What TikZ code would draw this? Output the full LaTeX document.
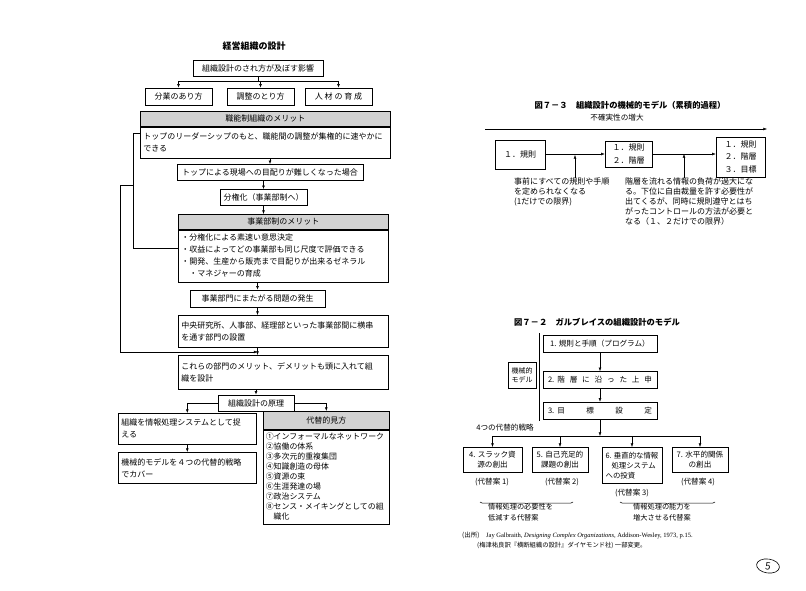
\documentclass[tikz,border=0pt]{standalone}
\usepackage{fontspec}
\setmainfont{Liberation Serif}
\newfontfamily\jp{Noto Sans CJK JP}
\usetikzlibrary{arrows.meta,positioning,decorations.pathreplacing,shapes.geometric}
\newcommand{\jpn}{\jp\fontsize{8}{12}\selectfont}
\newcommand{\jps}{\jp\fontsize{7.6}{10}\selectfont}

\begin{document}
\begin{tikzpicture}[x=1pt, y=-1pt,
    box/.style={draw, line width=0.6pt, fill=white, minimum height=16pt, inner xsep=3pt, inner ysep=1pt, align=center, font=\jpn},
    head/.style={box, fill=gray!35, anchor=north west, minimum height=15pt},
    body/.style={box, anchor=north west, align=left},
    rbox/.style={draw, line width=0.5pt, fill=white, inner sep=1.5pt, align=center, font=\jp\fontsize{7.6}{10}\selectfont},
    note/.style={align=left, inner sep=0pt, anchor=north west, font=\jp\fontsize{8}{10}\selectfont},
    arrow/.style={-{Latex[length=1.3mm,width=1mm]}, line width=0.5pt},
    link/.style={line width=0.5pt}
  ]
    \fill[white] (0,0) rectangle (806,591);
    \useasboundingbox (0,0) rectangle (806,591);

    \node[font=\jp\bfseries\fontsize{9}{10}\selectfont] (title) at (254,46) {経営組織の設計};
    \node[box, minimum width=130pt] (eikyo) at (258,68.5) {組織設計のされ方が及ぼす影響};
    \node[box, minimum width=67pt, minimum height=17pt] (bungyo) at (178.5,96.5) {分業のあり方};
    \node[box, minimum width=67pt, minimum height=17pt] (chosei) at (260.5,96.5) {調整のとり方};
    \node[box, minimum width=67pt, minimum height=17pt] (jinzai) at (338.5,96.5) {人 材 の 育 成};
    \coordinate (br) at (258,81);
    \draw[link] (eikyo) -- (br);
    \draw[link] (br -| bungyo) -- (br -| jinzai);
    \draw[arrow] (br -| bungyo) -- (bungyo);
    \draw[arrow] (br -| chosei) -- (chosei);
    \draw[arrow] (br -| jinzai) -- (jinzai);

    \node[head, minimum width=250pt] (kinouH) at (140,111) {職能制組織のメリット};
    \node[body, minimum width=250pt, text width=244pt, minimum height=31pt] (kinou) at (kinouH.south west) {トップのリーダーシップのもと、職能間の調整が集権的に速やかに\\できる};
    \node[box, minimum width=186pt] (top) at (270,172.5) {トップによる現場への目配りが難しくなった場合};
    \node[box, minimum width=87pt] (bunken) at (263.5,197.5) {分権化（事業部制へ）};
    \draw[arrow] (kinou.south -| top) -- (top);
    \draw[arrow] (top.south -| bunken) -- (bunken);

    \node[head, minimum width=210pt] (jigyoH) at (178,214) {事業部制のメリット};
    \node[body, minimum width=210pt, text width=204pt, minimum height=52pt] (jigyo) at (jigyoH.south west) {・分権化による素速い意思決定\\・収益によってどの事業部も同じ尺度で評価できる\\・開発、生産から販売まで目配りが出来るゼネラル\\\hspace*{1em}・マネジャーの育成};
    \draw[arrow] (bunken.south) -- (bunken.south |- jigyoH.north);
    \node[box, minimum width=135pt, minimum height=17pt] (mondai) at (257.5,298.5) {事業部門にまたがる問題の発生};
    \draw[arrow] (jigyo.south -| mondai) -- (mondai);
    \node[body, minimum width=210pt, text width=204pt, minimum height=32pt] (chuo) at (178,315) {中央研究所、人事部、経理部といった事業部間に横串\\を通す部門の設置};
    \draw[arrow] (mondai) -- (mondai |- chuo.north);
    \node[body, minimum width=210pt, text width=204pt, minimum height=34pt] (korera) at (178,355) {これらの部門のメリット、デメリットも頭に入れて組\\織を設計};
    \draw[arrow] (chuo.south -| mondai) -- (korera.north -| mondai);
    \node[box, minimum width=76pt] (genri) at (256,403) {組織設計の原理};
    \draw[arrow] (korera.south -| genri) -- (genri);

    \node[body, minimum width=138pt, text width=132pt, minimum height=31pt] (joho) at (118,413) {組織を情報処理システムとして捉\\える};
    \node[body, minimum width=138pt, text width=132pt, minimum height=31pt] (kikai) at (118,452) {機械的モデルを４つの代替的戦略\\でカバー};
    \draw[arrow] (genri.west) -| (joho);
    \draw[arrow] (joho) -- (kikai);
    \node[head, minimum width=126pt, minimum height=18pt] (daitaiH) at (263,411) {代替的見方};
    \node[body, minimum width=126pt, text width=121pt, inner xsep=2.5pt, minimum height=94pt, font=\jp\fontsize{7.9}{10}\selectfont] (daitai) at (daitaiH.south west) {①インフォーマルなネットワーク\\②協働の体系\\③多次元的重複集団\\④知識創造の母体\\⑤資源の束\\⑥生涯発達の場\\⑦政治システム\\⑧センス・メイキングとしての組\\\hspace*{1em}織化};
    \draw[arrow] (genri.east) -| (daitaiH);

    \coordinate (fbA) at (133,133);
    \coordinate (fbB) at (133,248);
    \coordinate (fbC) at (120,185);
    \coordinate (fbD) at (120,352);
    \draw[link] (kinou.west |- fbA) -- (fbA) -- (fbB) -- (fbB -| jigyo.west);
    \draw[link] (fbC -| fbA) -- (fbC) -- (fbD);
    \draw[arrow] (fbD) -- (fbD -| mondai);

    \node[font=\jp\bfseries\fontsize{8.3}{10}\selectfont] (t73) at (630,105) {図７－３\quad 組織設計の機械的モデル（累積的過程）};
    \node[font=\jps] (uncert) at (617,118) {不確実性の増大};
    \coordinate (u0) at (485,129);
    \coordinate (u1) at (767,129);
    \draw[arrow] (u0) -- (u1);
    \node[rbox, minimum width=50pt, minimum height=29pt, font=\jp\fontsize{8}{12.5}\selectfont] (m1) at (520,155) {１．規則};
    \node[rbox, minimum width=47pt, minimum height=26pt, font=\jp\fontsize{8}{12.5}\selectfont] (m2) at (628.5,154) {１．規則\\２．階層};
    \node[rbox, minimum width=49pt, minimum height=40pt, font=\jp\fontsize{8}{12.5}\selectfont] (m3) at (740.5,157) {１．規則\\２．階層\\３．目標};
    \draw[arrow] (m1.east |- m2) -- (m2);
    \draw[arrow] (m2.east) -- (m2.east -| m3.west);
    \node[note] (n1) at (514,178) {事前にすべての規則や手順\\を定められなくなる\\(1だけでの限界)};
    \node[note] (n2) at (625,178) {階層を流れる情報の負荷が過大にな\\る。下位に自由裁量を許す必要性が\\出てくるが、同時に規則遵守とはち\\がったコントロールの方法が必要と\\なる（１、２だけでの限界）};
    \coordinate (p1) at (575,155);
    \coordinate (p2) at (684,154);
    \draw[arrow] (n1.north -| p1) -- (p1);
    \draw[arrow] (n2.north -| p2) -- (p2);

    \node[font=\jp\bfseries\fontsize{8.3}{10}\selectfont] (t72) at (597,322) {図７－２\quad ガルブレイスの組織設計のモデル};
    \node[rbox, minimum width=114pt, minimum height=17pt] (g1) at (600,344) {1. 規則と手順（プログラム）};
    \node[rbox, minimum width=114pt, minimum height=17pt] (g2) at (600,380) {\makebox[104pt][s]{2.\kern3pt 階 層 に 沿 っ た 上 申}};
    \node[rbox, minimum width=114pt, minimum height=17pt] (g3) at (600,410.5) {\makebox[104pt][s]{3.\kern3pt 目 標 設 定}};
    \draw[arrow] (g1) -- (g2);
    \draw[arrow] (g2) -- (g3);
    \coordinate (bk0) at (539,333);
    \coordinate (bk1) at (539,421);
    \draw[line width=1pt] (bk0) -- (bk1);
    \node[rbox, minimum width=28pt, minimum height=26pt, inner sep=1pt, font=\jp\fontsize{7}{9}\selectfont] (mech) at (522,375) {機械的\\モデル};

    \node[font=\jps] (four) at (505,428) {4つの代替的戦略};
    \node[rbox, anchor=north, minimum width=59pt, minimum height=25pt] (s4) at (492.5,447) {4. スラック資\\源の創出};
    \node[rbox, anchor=north, minimum width=56pt, minimum height=25pt] (s5) at (560,447) {5. 自己充足的\\課題の創出};
    \node[rbox, anchor=north, minimum width=60pt, minimum height=36pt, align=left, font=\jp\fontsize{7.4}{10}\selectfont] (s6) at (632,447) {6. 垂直的な情報\\\hspace*{0.8em}処理システム\\への投資};
    \node[rbox, anchor=north, minimum width=56pt, minimum height=25pt] (s7) at (700,447) {7. 水平的関係\\の創出};
    \coordinate (jn) at (600,436);
    \draw[arrow] (g3) -- (jn);
    \draw[link] (jn -| s4) -- (jn -| s7);
    \draw[arrow] (jn -| s4) -- (s4);
    \draw[arrow] (jn -| s5) -- (s5);
    \draw[arrow] (jn -| s6) -- (s6);
    \draw[arrow] (jn -| s7) -- (s7);

    \node[font=\jps] (alt1) at (492,482) {(代替案 1)};
    \node[font=\jps] (alt2) at (562,482) {(代替案 2)};
    \node[font=\jps] (alt3) at (632,493) {(代替案 3)};
    \node[font=\jps] (alt4) at (698,482) {(代替案 4)};
    \coordinate (b1l) at (480,502);
    \coordinate (b1r) at (573,502);
    \coordinate (b2l) at (620,502);
    \coordinate (b2r) at (715,502);
    \draw[link, decorate, decoration={brace, amplitude=2pt, mirror}] (b1l) -- (b1r);
    \draw[link, decorate, decoration={brace, amplitude=2pt, mirror}] (b2l) -- (b2r);
    \node[note, font=\jp\fontsize{7.2}{11}\selectfont] (reduce) at (488,503) {情報処理の必要性を\\低減する代替案};
    \node[note, font=\jp\fontsize{7.2}{11}\selectfont] (raise) at (633,503) {情報処理の能力を\\増大させる代替案};

    \node[anchor=west, inner sep=0pt, font=\fontsize{6.5}{8}\selectfont] (src1) at (462,535) {{\jp (出所)}\quad Jay Galbraith, \textit{Designing Complex Organizations}, Addison-Wesley, 1973, p.15.};
    \node[anchor=west, inner sep=0pt, font=\jp\fontsize{6.3}{8}\selectfont] (src2) at (477,545) {(梅津祐良訳『横断組織の設計』ダイヤモンド社) 一部変更。};

    \node[draw, ellipse, line width=0.6pt, minimum width=23pt, minimum height=14pt, inner sep=0pt, rotate=-8, font=\sffamily\fontsize{11}{11}\selectfont] (page) at (768,566) {5};
  \end{tikzpicture}
\end{document}
